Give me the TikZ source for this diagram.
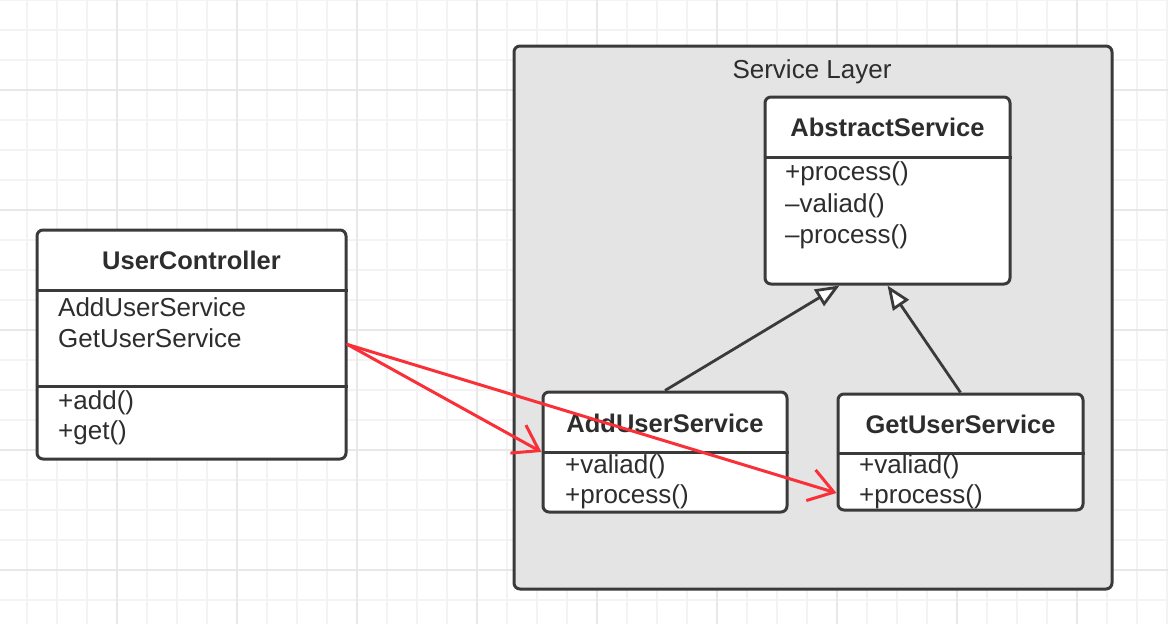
\documentclass[tikz,border=0pt]{standalone}
\usepackage{fontspec}
\setmainfont{Liberation Sans}
\usetikzlibrary{arrows.meta}
\definecolor{gridminor}{RGB}{243,243,243}
\definecolor{gridmajor}{RGB}{232,232,232}
\definecolor{boxline}{RGB}{58,58,58}
\definecolor{layerfill}{RGB}{228,228,228}
\definecolor{txt}{RGB}{45,45,45}
\definecolor{assocred}{RGB}{250,48,56}
\begin{document}
\begin{tikzpicture}[x=1pt, y=-1pt,
        classbox/.style={draw=boxline, line width=3pt, rounded corners=6pt,
            fill=white, inner sep=0pt},
        layerbox/.style={draw=boxline, line width=3pt, rounded corners=6pt,
            fill=layerfill, inner sep=0pt},
        divider/.style={draw=boxline, line width=3pt},
        title/.style={font=\fontsize{25.5}{30}\selectfont\bfseries, text=txt, inner sep=0pt},
        member/.style={anchor=west, font=\fontsize{26}{30}\selectfont, text=txt, inner sep=0pt},
        inherit/.style={draw=boxline, line width=2.8pt,
            -{Triangle[length=24pt, width=19pt, fill=white, line width=2.8pt]}},
        uses/.style={draw=assocred, line width=3pt, line cap=round,
            -{Straight Barb[length=24pt, width=32pt, line width=3pt]}}]
\useasboundingbox (0,0) rectangle (1168,624);
\fill[white] (0,0) rectangle (1168,624);

\foreach \x in {27,57,...,1167} \draw[gridminor, line width=1.5pt] (\x,0) -- (\x,624);
\foreach \y in {0,30,...,620} \draw[gridminor, line width=1.5pt] (0,\y) -- (1168,\y);
\foreach \x in {117,237,...,1167} \draw[gridmajor, line width=1.5pt] (\x,0) -- (\x,624);
\foreach \y in {90,210,...,620} \draw[gridmajor, line width=1.5pt] (0,\y) -- (1168,\y);

\node[layerbox, minimum width=598pt, minimum height=543pt] (svc) at (813,317.5) {};
\node[font=\fontsize{26}{30}\selectfont, text=txt, inner sep=0pt] (svctitle) at (812,72) {Service Layer};

\node[classbox, minimum width=309pt, minimum height=229pt] (ctrl) at (191.5,344.5) {};
\draw[divider] (ctrl.west |- 0,290) -- (ctrl.east |- 0,290);
\draw[divider] (ctrl.west |- 0,386) -- (ctrl.east |- 0,386);
\node[title] (ctrlname) at (191.5,260) {UserController};
\node[member] (ctrlf1) at (58,307) {AddUserService};
\node[member] (ctrlf2) at (58,338) {GetUserService};
\node[member] (ctrlm1) at (58,403) {+add()};
\node[member] (ctrlm2) at (58,433) {+get()};

\node[classbox, minimum width=245pt, minimum height=187pt] (abs) at (887.5,190.5) {};
\draw[divider] (abs.west |- 0,157) -- (abs.east |- 0,157);
\node[title] (absname) at (887.5,127) {AbstractService};
\node[member] (absm1) at (785,174) {+process()};
\node[member] (absm2) at (785,206) {--valiad()};
\node[member] (absm3) at (785,237) {--process()};

\node[classbox, minimum width=244pt, minimum height=120pt] (adds) at (665,452) {};
\draw[divider] (adds.west |- 0,452) -- (adds.east |- 0,452);
\node[title] (addsname) at (665,423) {AddUserService};
\node[member] (addsm1) at (565,467) {+valiad()};
\node[member] (addsm2) at (565,497) {+process()};

\node[classbox, minimum width=245pt, minimum height=116pt] (gets) at (960.5,452) {};
\draw[divider] (gets.west |- 0,453) -- (gets.east |- 0,453);
\node[title] (getsname) at (960.5,424) {GetUserService};
\node[member] (getsm1) at (859,467) {+valiad()};
\node[member] (getsm2) at (859,497) {+process()};

\coordinate (absleft) at ([xshift=-48pt]abs.south);
\coordinate (getsin) at ([yshift=-41pt]gets.west);

\draw[inherit] (adds.north) -- (absleft);
\draw[inherit] (gets.north) -- (abs.south);

\draw[uses] (ctrl.east) -- (adds.west);
\draw[uses] (ctrl.east) -- (getsin);

\end{tikzpicture}
\end{document}
